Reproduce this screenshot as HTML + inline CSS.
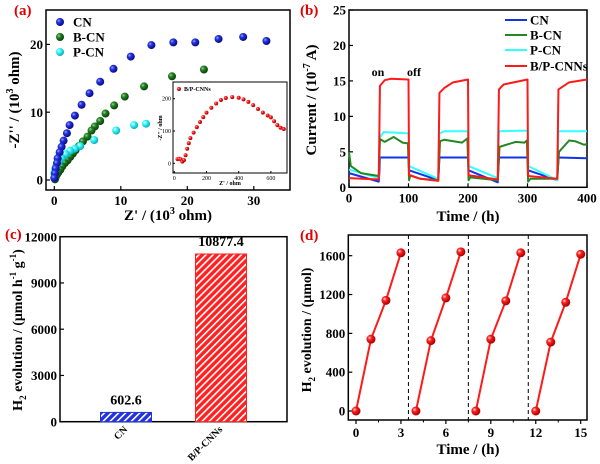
<!DOCTYPE html>
<html><head><meta charset="utf-8"><style>
body{margin:0;background:#fff}
svg{display:block;font-family:"Liberation Serif",serif;font-weight:bold}
</style></head><body>
<svg id="fig" width="600" height="464" viewBox="0 0 600 464" xmlns="http://www.w3.org/2000/svg">
<defs>
<radialGradient id="gb" cx="35%" cy="35%" r="65%"><stop offset="0" stop-color="#aab"/><stop offset="0.35" stop-color="#2233ee"/><stop offset="1" stop-color="#0a0a80"/></radialGradient>
<radialGradient id="gg" cx="35%" cy="35%" r="65%"><stop offset="0" stop-color="#aca"/><stop offset="0.35" stop-color="#228822"/><stop offset="1" stop-color="#0a400a"/></radialGradient>
<radialGradient id="gc" cx="35%" cy="35%" r="65%"><stop offset="0" stop-color="#fff"/><stop offset="0.35" stop-color="#33ffff"/><stop offset="1" stop-color="#11aabb"/></radialGradient>
<radialGradient id="gr" cx="35%" cy="35%" r="65%"><stop offset="0" stop-color="#fdd"/><stop offset="0.35" stop-color="#ff2020"/><stop offset="1" stop-color="#a00"/></radialGradient>
<pattern id="hb" width="5" height="5" patternUnits="userSpaceOnUse" patternTransform="rotate(45)"><rect width="5" height="5" fill="#2233dd"/><rect width="1.6" height="5" fill="#fff"/></pattern>
<pattern id="hr" width="5" height="5" patternUnits="userSpaceOnUse" patternTransform="rotate(45)"><rect width="5" height="5" fill="#ff2020"/><rect width="1.6" height="5" fill="#fff"/></pattern>
</defs>
</svg>
<script>
// ---- data ----
const cnX=[31.9,28.4,24.7,21.2,17.9,14.6,11.5,8.9,6.9,5.3,4.1,3.1,2.3,1.9,1.4,1.1,0.8,0.5,0.4,0.2,0.1,0.0];
const cnY=[20.5,21.1,20.8,20.3,20.3,19.9,18.2,16.4,14.5,12.8,11.1,9.5,8.1,6.9,5.8,4.9,4.1,3.2,2.5,1.7,1.0,0.3];
const bcnX=[22.5,17.7,13.5,10.6,9.0,7.7,6.9,6.1,5.6,5.0,4.3,3.7,3.2,2.8,2.4,2.0,1.6,1.2,0.9,0.6,0.4,0.2,0.1];
const bcnY=[16.3,15.3,13.8,12.3,11.0,9.8,8.7,7.9,7.3,6.4,5.7,5.0,4.4,3.9,3.4,2.9,2.5,2.0,1.5,1.1,0.8,0.4,0.1];
const pcnX=[13.8,12.0,9.3,6.0,3.9,3.1,2.4,1.7,1.1,0.7,0.5,0.3,0.2,0.1,0.0,0.0];
const pcnY=[8.3,8.1,7.3,5.9,5.0,4.6,4.3,3.8,3.2,2.8,2.5,2.1,1.7,1.3,1.0,0.3];
const bpX=[20,30,40,50,60,70,80,90,100,120,140,160,180,200,230,260,290,320,360,400,430,460,490,520,550,580,600,620,640,660,680];
const bpY=[13,14,12,5,10,25,45,62,78,95,112,128,143,157,172,185,196,202,205,203,198,190,180,168,157,148,142,130,118,110,106];
const tCN=[0,50,51,52,100,101,150,151,152,200,201,250,251,252,300,301,350,351,352,400];
const vCN=[2.0,0.8,2.0,4.2,4.2,2.4,1.0,2.5,4.2,4.2,2.4,0.7,2.5,4.2,4.2,2.4,1.0,2.5,4.2,4.1];
const tBCN=[0,3,20,50,52,60,75,90,99,101,103,120,150,153,160,190,199,201,204,250,253,280,295,299,301,305,350,353,370,380,395,400];
const vBCN=[5,3,2,1.6,6.8,6.4,7.1,6.3,6.2,1,1.7,1.2,1,6.5,6.7,6.3,6.9,1,1.4,1,5.7,6.4,6.3,6.6,0.8,1.2,1.2,5,6.6,6.5,6,6.1];
const tPCN=[0,50,52,58,100,101,150,152,160,200,201,250,252,300,301,350,352,400];
const vPCN=[2.5,1.3,7,7.8,7.6,3,1.2,7.6,7.9,7.9,3,1.3,7.9,8,3,1,7.9,7.9];
const tBP=[0,50,52,60,70,100,101,120,150,152,160,175,200,201,250,252,260,300,301,350,352,370,400];
const vBP=[1.3,1.1,14.3,15.1,15.3,15.2,1.7,1.2,0.9,13.3,14,14.8,15.2,1.7,1.1,13.8,14.5,15.2,1.6,1.2,13.8,14.8,15.2];
const barCats=["CN","B/P-CNNs"];
const barVals=[602.6,10877.4];
const cycT=[[0,1,2,3],[4,5,6,7],[8,9,10,11],[12,13,14,15]];
const cycV=[[0,740,1140,1630],[0,725,1165,1640],[0,740,1135,1630],[0,710,1120,1615]];
const cycBreaks=[3.5,7.5,11.5];
const aXTicks=[0,10,20,30], aYTicks=[0,10,20];
const insXTicks=[0,200,400,600], insYTicks=[0,100,200];
const bXTicks=[0,100,200,300,400], bYTicks=[0,5,10,15,20,25];
const cYTicks=[0,3000,6000,9000,12000];
const dXTicks=[0,3,6,9,12,15], dYTicks=[0,400,800,1200,1600];

const svg=document.getElementById('fig');const NS='http://www.w3.org/2000/svg';
function el(tag,attrs,parent,txt){const e=document.createElementNS(NS,tag);for(const k in attrs)e.setAttribute(k,attrs[k]);if(txt!==undefined)e.textContent=txt;(parent||svg).appendChild(e);return e;}
function lin(d0,d1,r0,r1){return v=>r0+(v-d0)/(d1-d0)*(r1-r0);}
function grp(name){const g=el('g',{},svg);return g;}
function frame(g,x0,y0,x1,y1){const r=el('rect',{x:x0,y:y0,width:x1-x0,height:y1-y0,fill:'none',stroke:'#000','stroke-width':1.5},g);}
function xticks(g,ticks,sx,y,fs,len){ticks.forEach(t=>{el('line',{x1:sx(t),x2:sx(t),y1:y,y2:y-len,stroke:'#000','stroke-width':1.2},g);const tx=el('text',{x:sx(t),y:y+fs+2,'font-size':fs,'text-anchor':'middle'},g,t);});}
function yticks(g,ticks,sy,x,fs,len){ticks.forEach(t=>{el('line',{x1:x,x2:x+len,y1:sy(t),y2:sy(t),stroke:'#000','stroke-width':1.2},g);const tx=el('text',{x:x-3,y:sy(t)+fs*0.35,'font-size':fs,'text-anchor':'end'},g,t);});}
function label(g,x,y,txt,name){const t=el('text',{x:x,y:y,'font-size':15,fill:'#e00000'},g,txt);}

// ---- panel a ----
(function(){const g=grp('panel-a');
const sx=lin(0,10,54.3,120.8), sy=lin(0,10,180,112.2);
frame(g,46,10,290,190);
xticks(g,aXTicks,sx,190,13,4);yticks(g,aYTicks,sy,46,13,4);
label(g,14,15,'(a)','panel-a-label');
const yt=el('text',{transform:'translate(19,100) rotate(-90)','font-size':15,'text-anchor':'middle'},g);yt.innerHTML='-Z\'\' / (10<tspan font-size="10" dy="-6">3</tspan><tspan dy="6"> ohm)</tspan>';
const xt=el('text',{x:168,y:220,'font-size':15,'text-anchor':'middle'},g);xt.innerHTML='Z\' / (10<tspan font-size="10" dy="-6">3</tspan><tspan dy="6"> ohm)</tspan>';
[[bcnX,bcnY,'url(#gg)','b-cn-point'],[pcnX,pcnY,'url(#gc)','p-cn-point'],[cnX,cnY,'url(#gb)','cn-point']].forEach(s=>{s[0].forEach((x,i)=>{const c=el('circle',{cx:sx(x),cy:sy(s[1][i]),r:4,fill:s[2]},g);});});
[['CN','url(#gb)',22],['B-CN','url(#gg)',37],['P-CN','url(#gc)',52]].forEach(l=>{const lg=el('g',{},g);el('circle',{cx:60,cy:l[2],r:4,fill:l[1]},lg);el('text',{x:73,y:l[2]+4.5,'font-size':13},lg,l[0]);});
// inset
const ig=el('g',{},g);
el('rect',{x:173,y:82,width:114,height:91,fill:'#fff',stroke:'#000','stroke-width':1},ig);
const ix=lin(0,200,174.3,206.5), iy=lin(0,100,163.3,131);
insXTicks.forEach(t=>{el('line',{x1:ix(t),x2:ix(t),y1:173,y2:171,stroke:'#000'},ig);el('text',{x:ix(t),y:180,'font-size':6,'text-anchor':'middle','font-weight':'normal'},ig,t);});
insYTicks.forEach(t=>{el('line',{x1:173,x2:175,y1:iy(t),y2:iy(t),stroke:'#000'},ig);el('text',{x:171,y:iy(t)+2,'font-size':6,'text-anchor':'end','font-weight':'normal'},ig,t);});
el('text',{x:230,y:185,'font-size':6,'text-anchor':'middle'},ig,"Z' / ohm");
el('text',{transform:'translate(162,128) rotate(-90)','font-size':6,'text-anchor':'middle'},ig,"-Z'' / ohm");
bpX.forEach((x,i)=>{const c=el('circle',{cx:ix(x),cy:iy(bpY[i]),r:2,fill:'url(#gr)'},ig);});
el('circle',{cx:179,cy:89,r:2,fill:'url(#gr)'},ig);el('text',{x:184,y:91,'font-size':6},ig,'B/P-CNNs');
})();

// ---- panel b ----
(function(){const g=grp('panel-b');
const sx=lin(0,400,349,587), sy=lin(0,25,187.3,10);
frame(g,349,10,587,187.3);
xticks(g,bXTicks,sx,187.3,13,4);yticks(g,bYTicks,sy,349,13,4);
label(g,300,15,'(b)','panel-b-label');
const yt=el('text',{transform:'translate(316,100) rotate(-90)','font-size':15,'text-anchor':'middle'},g);yt.innerHTML='Current / (10<tspan font-size="10" dy="-6">-7</tspan><tspan dy="6"> A)</tspan>';
const xt=el('text',{x:468,y:221,'font-size':15,'text-anchor':'middle'},g,'Time / (h)');
[[tCN,vCN,'#1133ee','cn-line'],[tPCN,vPCN,'#33ffff','p-cn-line'],[tBCN,vBCN,'#228822','b-cn-line'],[tBP,vBP,'#ff1a1a','b-p-cnns-line']].forEach(s=>{const p=el('polyline',{points:s[0].map((t,i)=>sx(t)+','+sy(s[1][i])).join(' '),fill:'none',stroke:s[2],'stroke-width':2,'stroke-linejoin':'round'},g);});
[['CN','#1133ee',20],['B-CN','#228822',35],['P-CN','#33ffff',50],['B/P-CNNs','#ff1a1a',66]].forEach(l=>{const lg=el('g',{},g);el('line',{x1:505,x2:527,y1:l[2],y2:l[2],stroke:l[1],'stroke-width':2},lg);el('text',{x:530,y:l[2]+4.5,'font-size':13},lg,l[0]);});
const on=el('text',{x:378,y:76,'font-size':12,'text-anchor':'middle'},g,'on');
const off=el('text',{x:414,y:76,'font-size':12,'text-anchor':'middle'},g,'off');
})();

// ---- panel c ----
(function(){const g=grp('panel-c');
const sy=lin(0,12000,421.7,236.7);
frame(g,60,236.7,287,421.7);
yticks(g,cYTicks,sy,60,13,4);
label(g,5,239,'(c)','panel-c-label');
const yt=el('text',{transform:'translate(22,330) rotate(-90)','font-size':14,'text-anchor':'middle'},g);yt.innerHTML='H<tspan font-size="9" dy="4">2</tspan><tspan dy="-4"> evolution / (μmol h</tspan><tspan font-size="9" dy="-6">-1</tspan><tspan dy="6"> g</tspan><tspan font-size="9" dy="-6">-1</tspan><tspan dy="6">)</tspan>';
const xs=[126,221], fills=['url(#hb)','url(#hr)'], strokes=['#2233dd','#ff2020'];
barVals.forEach((v,i)=>{const b=el('rect',{x:xs[i]-25.5,y:sy(v),width:51,height:sy(0)-sy(v),fill:fills[i],stroke:strokes[i],'stroke-width':1},g);
const t=el('text',{x:xs[i],y:sy(v)-8,'font-size':14,'text-anchor':'middle'},g,v.toFixed(1));
const c=el('text',{transform:'translate('+(xs[i]+2)+',430) rotate(-45)','font-size':10,'text-anchor':'end'},g,barCats[i]);});
})();

// ---- panel d ----
(function(){const g=grp('panel-d');
const sx=lin(0,15,356,580.7), sy=lin(0,1600,411,255.7);
frame(g,348.3,235,587,420);
dXTicks.forEach(t=>{el('line',{x1:sx(t),x2:sx(t),y1:420,y2:424,stroke:'#000','stroke-width':1.2},g);const tx=el('text',{x:sx(t),y:437,'font-size':13,'text-anchor':'middle'},g,t);});
dXTicks.slice(0,-1).forEach(t=>el('line',{x1:sx(t+1.5),x2:sx(t+1.5),y1:420,y2:422.5,stroke:'#000'},g));
yticks(g,dYTicks,sy,348.3,13,4);
label(g,300,240,'(d)','panel-d-label');
const yt=el('text',{transform:'translate(311,330) rotate(-90)','font-size':14,'text-anchor':'middle'},g);yt.innerHTML='H<tspan font-size="9" dy="4">2</tspan><tspan dy="-4"> evolution / (μmol)</tspan>';
const xt=el('text',{x:468,y:454,'font-size':15,'text-anchor':'middle'},g,'Time / (h)');
cycBreaks.forEach(b=>{const l=el('line',{x1:sx(b),x2:sx(b),y1:235,y2:420,stroke:'#000','stroke-width':1,'stroke-dasharray':'4,3'},g);});
cycT.forEach((ts,k)=>{const p=el('polyline',{points:ts.map((t,i)=>sx(t)+','+sy(cycV[k][i])).join(' '),fill:'none',stroke:'#ff1a1a','stroke-width':2},g);
ts.forEach((t,i)=>{const c=el('circle',{cx:sx(t),cy:sy(cycV[k][i]),r:4.5,fill:'url(#gr)'},g);});});
})();
</script>
</body></html>
